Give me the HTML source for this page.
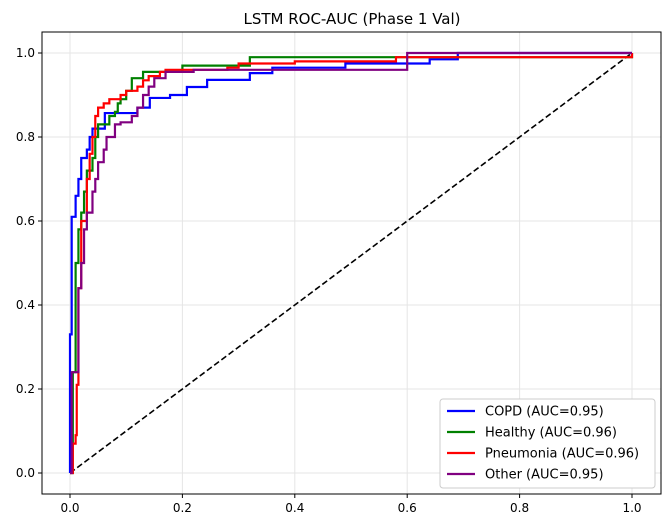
<!DOCTYPE html>
<html><head><meta charset="utf-8"><style>
body{margin:0;background:#fff;font-family:"DejaVu Sans","Liberation Sans",sans-serif}
svg text{font-family:"DejaVu Sans","Liberation Sans",sans-serif}
</style></head><body>
<svg id="chart" width="671" height="528" xmlns="http://www.w3.org/2000/svg">
<text x="352" y="24" text-anchor="middle" font-size="15">LSTM ROC-AUC (Phase 1 Val)</text>
<g id="grid"></g><g id="ticks"></g><g id="series"></g>
<rect x="42" y="32" width="619" height="462" fill="none" stroke="#000" stroke-width="1"/>
<g id="legend"></g>
</svg>
<script>
const seriesNames=["COPD (AUC=0.95)","Healthy (AUC=0.96)","Pneumonia (AUC=0.96)","Other (AUC=0.95)"];
const seriesColors=["#0000ff","#008000","#ff0000","#800080"];
const xTicks=[0,0.2,0.4,0.6,0.8,1.0];
const yTicks=[0,0.2,0.4,0.6,0.8,1.0];
const copdFpr=[0,0,0.003,0.003,0.01,0.015,0.02,0.03,0.035,0.04,0.05,0.062,0.112,0.12,0.142,0.178,0.208,0.244,0.32,0.36,0.49,0.64,0.69,1];
const copdTpr=[0,0.33,0.33,0.61,0.66,0.70,0.75,0.77,0.80,0.82,0.82,0.857,0.857,0.87,0.893,0.90,0.919,0.936,0.952,0.965,0.975,0.985,1,1];
const healthyFpr=[0,0.005,0.005,0.01,0.015,0.02,0.025,0.03,0.04,0.045,0.05,0.07,0.08,0.085,0.09,0.1,0.11,0.13,0.2,0.32,1,1];
const healthyTpr=[0,0.06,0.24,0.5,0.58,0.62,0.67,0.72,0.75,0.8,0.83,0.85,0.86,0.88,0.89,0.91,0.94,0.955,0.97,0.99,0.99,1];
const pneuFpr=[0,0.005,0.01,0.012,0.015,0.02,0.03,0.035,0.04,0.045,0.05,0.06,0.07,0.09,0.1,0.12,0.13,0.14,0.16,0.17,0.28,0.3,0.4,0.58,1,1];
const pneuTpr=[0,0.07,0.09,0.21,0.44,0.6,0.7,0.76,0.80,0.85,0.87,0.88,0.89,0.9,0.91,0.92,0.935,0.945,0.955,0.96,0.965,0.975,0.98,0.99,0.99,1];
const otherFpr=[0,0.003,0.01,0.015,0.02,0.025,0.03,0.04,0.045,0.05,0.06,0.065,0.08,0.09,0.11,0.12,0.13,0.14,0.15,0.17,0.22,0.6,1];
const otherTpr=[0,0.24,0.24,0.44,0.5,0.58,0.62,0.67,0.70,0.74,0.77,0.8,0.83,0.835,0.85,0.87,0.9,0.92,0.94,0.955,0.96,1,1];
const allFpr=[copdFpr,healthyFpr,pneuFpr,otherFpr];
const allTpr=[copdTpr,healthyTpr,pneuTpr,otherTpr];
const NS="http://www.w3.org/2000/svg";
const sx=v=>70+v*562, sy=v=>473-v*420;
function mk(tag,attrs,parent){const e=document.createElementNS(NS,tag);for(const k in attrs)e.setAttribute(k,attrs[k]);parent.appendChild(e);return e;}
const grid=document.getElementById('grid'),ticks=document.getElementById('ticks'),ser=document.getElementById('series'),leg=document.getElementById('legend');
xTicks.forEach(t=>{
 const g=mk('line',{x1:sx(t),x2:sx(t),y1:32,y2:494,stroke:'#e5e5e5','stroke-width':1},grid);
 
 
 const tk=mk('line',{x1:sx(t),x2:sx(t),y1:494,y2:498,stroke:'#000'},ticks);
 
 
 const tx=mk('text',{x:sx(t),y:512,'text-anchor':'middle','font-size':12},ticks);
 tx.textContent=t.toFixed(1);
 
 
});
yTicks.forEach(t=>{
 const g=mk('line',{x1:42,x2:661,y1:sy(t),y2:sy(t),stroke:'#e5e5e5','stroke-width':1},grid);
 
 
 const tk=mk('line',{x1:38,x2:42,y1:sy(t),y2:sy(t),stroke:'#000'},ticks);
 
 
 const tx=mk('text',{x:35,y:sy(t)+4,'text-anchor':'end','font-size':12},ticks);
 tx.textContent=t.toFixed(1);
 
 
});
const diag=mk('line',{x1:sx(0),y1:sy(0),x2:sx(1),y2:sy(1),stroke:'#000','stroke-width':1.6,'stroke-dasharray':'6,3'},ser);


allFpr.forEach((fx,i)=>{
 const fy=allTpr[i];let d='M'+sx(fx[0])+','+sy(fy[0]);
 for(let j=1;j<fx.length;j++){d+=' L'+sx(fx[j])+','+sy(fy[j-1])+' L'+sx(fx[j])+','+sy(fy[j]);}
 const p=mk('path',{d:d,fill:'none',stroke:seriesColors[i],'stroke-width':2.2},ser);
 
 
});
const box=mk('rect',{x:440,y:399,width:215,height:89,rx:3,fill:'#fff',stroke:'#ccc'},leg);


seriesNames.forEach((n,i)=>{
 const y=411+i*21;
 const l=mk('line',{x1:447,x2:475,y1:y,y2:y,stroke:seriesColors[i],'stroke-width':2.2},leg);
 
 
 const t=mk('text',{x:485,y:y+4.5,'font-size':13},leg);
 t.textContent=n;
 
 
});
</script>
</body></html>
